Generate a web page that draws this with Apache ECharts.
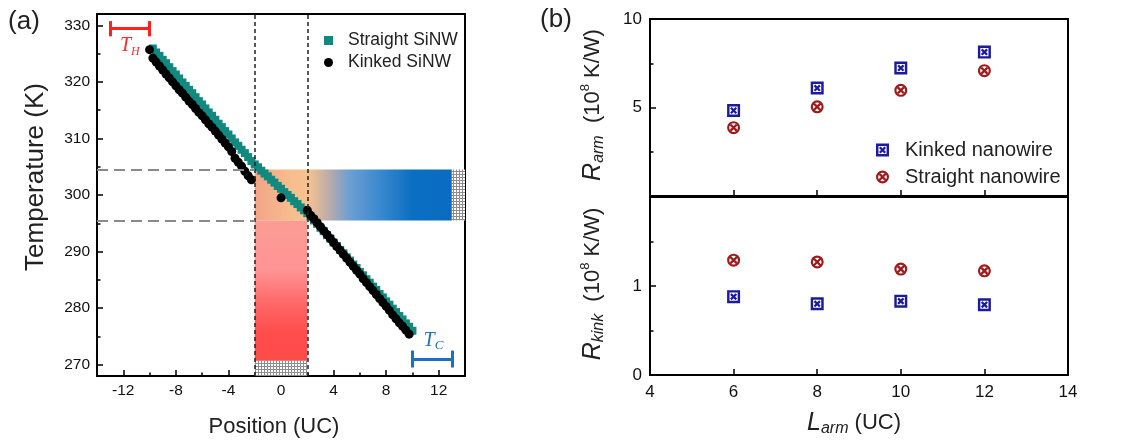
<!DOCTYPE html>
<html>
<head>
<meta charset="utf-8">
<script src="https://cdn.jsdelivr.net/npm/echarts@6/dist/echarts.min.js"></script>
<style>
  html, body { margin: 0; padding: 0; background: #fff; }
  #chart { width: 1140px; height: 443px; }
</style>
</head>
<body>
<div id="chart"></div>
<script>
// ---------- (a) temperature profiles along the nanowire ----------
const straightPos = [
  -9.75, -9.5, -9.25, -9, -8.75, -8.5, -8.25, -8, -7.75, -7.5, -7.25, -7, -6.75, -6.5, -6.25, -6,
  -5.75, -5.5, -5.25, -5, -4.75, -4.5, -4.25, -4, -3.75, -3.5, -3.25, -3, -2.75, -2.5, -2.25, -2,
  -1.75, -1.5, -1.25, -1, -0.75, -0.5, -0.25, 0, 0.25, 0.5, 0.75, 1, 1.25, 1.5, 1.75, 2,
  2.25, 2.5, 2.75, 3, 3.25, 3.5, 3.75, 4, 4.25, 4.5, 4.75, 5, 5.25, 5.5, 5.75, 6,
  6.25, 6.5, 6.75, 7, 7.25, 7.5, 7.75, 8, 8.25, 8.5, 8.75, 9, 9.25, 9.5, 9.75, 10
];
const straightTemp = [
  325.9, 325.2, 324.6, 323.9, 323.3, 322.6, 321.9, 321.3, 320.6, 319.9, 319.3, 318.6, 318.0, 317.3, 316.6, 316.0,
  315.3, 314.6, 314.0, 313.3, 312.6, 312.0, 311.3, 310.7, 310.0, 309.3, 308.7, 308.0, 307.4, 306.7, 306.0, 305.4,
  304.9, 304.3, 303.8, 303.3, 302.7, 302.2, 301.6, 301.1, 300.5, 300.0, 299.5, 298.9, 298.4, 297.8, 297.3, 296.8,
  296.2, 295.5, 294.9, 294.2, 293.6, 292.9, 292.3, 291.6, 291.0, 290.3, 289.7, 289.0, 288.4, 287.7, 287.1, 286.4,
  285.8, 285.1, 284.5, 283.8, 283.2, 282.5, 281.9, 281.2, 280.6, 279.9, 279.3, 278.6, 278.0, 277.3, 276.7, 276.0
];
const kinkedPos = [
  -10, -9.75, -9.5, -9.25, -9, -8.75, -8.5, -8.25, -8, -7.75, -7.5, -7.25, -7, -6.75, -6.5, -6.25,
  -6, -5.75, -5.5, -5.25, -5, -4.75, -4.5, -4.25, -4, -3.75, -3.5, -3.25, -3, -2.75, -2.5, -2.25,
  0,
  2, 2.25, 2.5, 2.75, 3, 3.25, 3.5, 3.75, 4, 4.25, 4.5, 4.75, 5, 5.25, 5.5, 5.75,
  6, 6.25, 6.5, 6.75, 7, 7.25, 7.5, 7.75, 8, 8.25, 8.5, 8.75, 9, 9.25, 9.5, 9.75
];
const kinkedTemp = [
  325.7, 324.2, 323.5, 322.8, 322.1, 321.4, 320.7, 320.0, 319.3, 318.6, 318.0, 317.3, 316.6, 316.0, 315.3, 314.6,
  314.0, 313.3, 312.6, 312.0, 311.3, 310.6, 309.9, 309.2, 308.5, 307.7, 306.5, 305.8, 305.1, 304.2, 303.4, 302.7,
  299.5,
  297.3, 296.4, 295.8, 295.1, 294.4, 293.7, 293.0, 292.3, 291.6, 290.9, 290.2, 289.5, 288.8, 288.1, 287.4, 286.7,
  286.0, 285.2, 284.5, 283.8, 283.1, 282.4, 281.7, 281.0, 280.3, 279.6, 278.8, 278.1, 277.4, 276.8, 276.1, 275.4
];
const posTicks = [-12, -8, -4, 0, 4, 8, 12];
const posMinorTicks = [-10, -6, -2, 2, 6, 10];
const tempTicks = [270, 280, 290, 300, 310, 320, 330];
const tempMinorTicks = [275, 285, 295, 305, 315, 325];
const kinkEdges = [-2, 2];          // kink region boundaries (UC)
const kinkTemps = [295.5, 304.5];   // temperatures at the kink boundaries (K)
const hotBath = [-13, -10, 329.4];  // x from, x to, level
const coldBath = [10, 13, 271.0];

// ---------- (b) thermal resistances vs arm length ----------
const armLengths = [6, 8, 10, 12];
const rArmKinked = [4.83, 6.10, 7.23, 8.13];
const rArmStraight = [3.86, 5.04, 5.97, 7.08];
const rKinkKinked = [0.88, 0.80, 0.83, 0.79];
const rKinkStraight = [1.29, 1.27, 1.19, 1.17];

const FONT = '"Liberation Sans", Arial, sans-serif';
const SERIF = '"Liberation Serif", "DejaVu Serif", serif';
const INK = '#111';

// square with a cross, and circle with a cross
const SQ_X = 'path://M0,0H24V24H0Z M4.5,4.5V19.5H19.5V4.5Z M5.5,8.5L8.5,5.5L18.5,15.5L15.5,18.5Z M15.5,5.5L18.5,8.5L8.5,18.5L5.5,15.5Z';
const CIR_X = 'path://M0,12A12,12 0 1,1 24,12A12,12 0 1,1 0,12Z M4,12A8,8 0 1,0 20,12A8,8 0 1,0 4,12Z M5,8L8,5L19,16L16,19Z M16,5L19,8L8,19L5,16Z';

function hatch() {
  const c = document.createElement('canvas');
  c.width = 3; c.height = 3;
  const g = c.getContext('2d');
  g.fillStyle = '#ffffff'; g.fillRect(0, 0, 3, 3);
  g.fillStyle = '#8e8e8e'; g.fillRect(0, 0, 3, 1); g.fillRect(0, 0, 1, 3);
  return { image: c, repeat: 'repeat' };
}

const pairs = (xs, ys) => xs.map((x, i) => [x, ys[i]]);

const bandGradient = new echarts.graphic.LinearGradient(0, 0, 1, 0, [
  { offset: 0.00, color: '#f2a386' },
  { offset: 0.18, color: '#f7bd8e' },
  { offset: 0.27, color: '#f7c28f' },
  { offset: 0.38, color: '#b9abab' },
  { offset: 0.48, color: '#6d9fd4' },
  { offset: 0.62, color: '#3f8bd0' },
  { offset: 0.80, color: '#0a6fc2' },
  { offset: 1.00, color: '#0a6cc0' }
]);
const kinkGradient = new echarts.graphic.LinearGradient(0, 0, 0, 1, [
  { offset: 0.00, color: '#fb9c94' },
  { offset: 0.35, color: '#ff9494' },
  { offset: 0.60, color: '#ff6666' },
  { offset: 0.80, color: '#ff4d4d' },
  { offset: 1.00, color: '#ff4a4a' }
]);

const dashBlack = { color: '#222', width: 1.5, type: [4, 3] };
const dashGray = { color: '#8a8a8a', width: 2, type: [11, 6] };
const hotStyle = { color: '#ff2020', width: 3, type: 'solid' };
const coldStyle = { color: '#1b72c2', width: 3, type: 'solid' };

const chart = echarts.init(document.getElementById('chart'), null, { renderer: 'canvas' });

const baseAxis = {
  type: 'value',
  splitLine: { show: false },
  axisLine: { show: true, onZero: false, lineStyle: { color: '#000', width: 2 } },
  axisTick: { show: true, inside: true, length: 6, lineStyle: { color: '#000', width: 1.5 } },
  axisLabel: { color: INK, fontFamily: FONT }
};
const minorAxis = {
  type: 'value',
  splitLine: { show: false },
  axisLine: { show: false, onZero: false },
  axisLabel: { show: false }
};

const richTitle = {
  r: { fontSize: 25, fontStyle: 'italic', fontFamily: FONT, lineHeight: 28, fill: '#222' },
  sub: { fontSize: 16, fontStyle: 'italic', fontFamily: FONT, lineHeight: 14, verticalAlign: 'bottom', fill: '#222' },
  n: { fontSize: 22, fontFamily: FONT, lineHeight: 28, fill: '#222' },
  sup: { fontSize: 13, fontFamily: FONT, lineHeight: 14, verticalAlign: 'top', fill: '#222' }
};

chart.setOption({
  animation: false,
  textStyle: { fontFamily: FONT },
  grid: [
    { left: 97, top: 14, width: 368, height: 362, show: true, borderColor: '#000', borderWidth: 2 },
    { left: 650, top: 19, width: 418, height: 177, show: true, borderColor: '#000', borderWidth: 2 },
    { left: 650, top: 197, width: 418, height: 178, show: true, borderColor: '#000', borderWidth: 2 }
  ],
  xAxis: [
    Object.assign({}, baseAxis, {
      gridIndex: 0, min: -14, max: 14, position: 'bottom',
      axisTick: Object.assign({}, baseAxis.axisTick, { customValues: posTicks }),
      axisLabel: Object.assign({}, baseAxis.axisLabel, { customValues: posTicks, fontSize: 15.5, margin: 7 })
    }),
    Object.assign({}, minorAxis, {
      gridIndex: 0, min: -14, max: 14, position: 'bottom',
      axisTick: { show: true, inside: true, length: 3.5, customValues: posMinorTicks, lineStyle: { color: '#000', width: 1.5 } }
    }),
    Object.assign({}, baseAxis, {
      gridIndex: 1, min: 4, max: 14, interval: 2, position: 'bottom',
      axisLabel: { show: false }
    }),
    Object.assign({}, baseAxis, {
      gridIndex: 2, min: 4, max: 14, interval: 2, position: 'bottom',
      axisLabel: Object.assign({}, baseAxis.axisLabel, { fontSize: 17, margin: 9 })
    })
  ],
  yAxis: [
    Object.assign({}, baseAxis, {
      gridIndex: 0, min: 268, max: 332, position: 'left',
      axisTick: Object.assign({}, baseAxis.axisTick, { customValues: tempTicks }),
      axisLabel: Object.assign({}, baseAxis.axisLabel, { customValues: tempTicks, fontSize: 15.5, margin: 7 })
    }),
    Object.assign({}, minorAxis, {
      gridIndex: 0, min: 268, max: 332, position: 'left',
      axisTick: { show: true, inside: true, length: 3.5, customValues: tempMinorTicks, lineStyle: { color: '#000', width: 1.5 } }
    }),
    Object.assign({}, baseAxis, {
      gridIndex: 1, min: 0, max: 10, interval: 5, position: 'left',
      minorTick: { show: true, splitNumber: 2, length: 3.5, lineStyle: { color: '#000', width: 1.5 } },
      axisLabel: Object.assign({}, baseAxis.axisLabel, { fontSize: 17, margin: 8, showMinLabel: false })
    }),
    Object.assign({}, baseAxis, {
      gridIndex: 2, min: 0, max: 2, interval: 1, position: 'left',
      minorTick: { show: true, splitNumber: 2, length: 3.5, lineStyle: { color: '#000', width: 1.5 } },
      axisLabel: Object.assign({}, baseAxis.axisLabel, { fontSize: 17, margin: 8, showMaxLabel: false })
    })
  ],
  legend: [
    {
      data: ['Straight SiNW', 'Kinked SiNW'],
      orient: 'vertical', left: 319, top: 26,
      itemWidth: 9, itemHeight: 9, itemGap: 3, selectedMode: false,
      textStyle: { fontSize: 17.5, color: '#222', fontFamily: FONT, lineHeight: 19, padding: [0, 0, 0, 10] }
    },
    {
      data: ['Kinked nanowire', 'Straight nanowire'],
      orient: 'vertical', left: 871, top: 134,
      itemWidth: 13, itemHeight: 13, itemGap: 5, selectedMode: false,
      textStyle: { fontSize: 20, color: '#222', fontFamily: FONT, lineHeight: 22, padding: [0, 0, 0, 11] }
    }
  ],
  graphic: [
    { type: 'text', x: 24, y: 22, style: { text: '(a)', fontSize: 26, fontFamily: FONT, fill: '#222', align: 'center', verticalAlign: 'middle' } },
    { type: 'text', x: 556, y: 20, style: { text: '(b)', fontSize: 26, fontFamily: FONT, fill: '#222', align: 'center', verticalAlign: 'middle' } },
    { type: 'text', x: 36, y: 177, rotation: Math.PI / 2,
      style: { text: 'Temperature (K)', fontSize: 26, fontFamily: FONT, fill: '#222', align: 'center', verticalAlign: 'middle' } },
    { type: 'text', x: 274, y: 427,
      style: { text: 'Position (UC)', fontSize: 22, fontFamily: FONT, fill: '#222', align: 'center', verticalAlign: 'middle' } },
    { type: 'text', x: 593, y: 105, rotation: Math.PI / 2,
      style: { text: '{r|R}{sub|arm}{n|  (10}{sup|8}{n| K/W)}', align: 'center', verticalAlign: 'middle', fill: '#222', rich: richTitle } },
    { type: 'text', x: 593, y: 284, rotation: Math.PI / 2,
      style: { text: '{r|R}{sub|kink}{n|  (10}{sup|8}{n| K/W)}', align: 'center', verticalAlign: 'middle', fill: '#222', rich: richTitle } },
    { type: 'text', x: 854, y: 423,
      style: { text: '{r|L}{sub|arm}{n| (UC)}', align: 'center', verticalAlign: 'middle', fill: '#222', rich: richTitle } }
  ],
  series: [
    {
      // bands, reservoirs, guide lines and bath markers for panel (a)
      name: 'guides', type: 'scatter', xAxisIndex: 0, yAxisIndex: 0, data: [], z: 1, silent: true,
      markArea: {
        silent: true,
        label: { show: false },
        data: [
          [{ coord: [kinkEdges[0], kinkTemps[1]], itemStyle: { color: bandGradient } }, { coord: [13, kinkTemps[0]] }],
          [{ coord: [kinkEdges[0], kinkTemps[0]], itemStyle: { color: kinkGradient } }, { coord: [kinkEdges[1], 270.7] }],
          [{ coord: [13, kinkTemps[1]], itemStyle: { color: hatch() } }, { coord: [14, kinkTemps[0]] }],
          [{ coord: [kinkEdges[0], 270.7], itemStyle: { color: hatch() } }, { coord: [kinkEdges[1], 268] }]
        ]
      },
      markLine: {
        silent: true, symbol: ['none', 'none'], label: { show: false },
        emphasis: { disabled: true },
        data: [
          { xAxis: kinkEdges[0], lineStyle: dashBlack },
          { xAxis: kinkEdges[1], lineStyle: dashBlack },
          [{ coord: [-14, kinkTemps[1]], lineStyle: dashGray }, { coord: [kinkEdges[0], kinkTemps[1]] }],
          [{ coord: [-14, kinkTemps[0]], lineStyle: dashGray }, { coord: [kinkEdges[0], kinkTemps[0]] }],
          [{ coord: [hotBath[0], hotBath[2]], lineStyle: hotStyle }, { coord: [hotBath[1], hotBath[2]] }],
          [{ coord: [hotBath[0], hotBath[2] - 1.35], lineStyle: hotStyle }, { coord: [hotBath[0], hotBath[2] + 1.35] }],
          [{ coord: [hotBath[1], hotBath[2] - 1.35], lineStyle: hotStyle }, { coord: [hotBath[1], hotBath[2] + 1.35] }],
          [{ coord: [coldBath[0], coldBath[2]], lineStyle: coldStyle }, { coord: [coldBath[1], coldBath[2]] }],
          [{ coord: [coldBath[0], coldBath[2] - 1.5], lineStyle: coldStyle }, { coord: [coldBath[0], coldBath[2] + 1.5] }],
          [{ coord: [coldBath[1], coldBath[2] - 1.5], lineStyle: coldStyle }, { coord: [coldBath[1], coldBath[2] + 1.5] }]
        ]
      },
      markPoint: {
        silent: true, symbolSize: 0,
        data: [
          { coord: [-11.5, 326.4], label: { show: true, position: 'inside', formatter: '{t|T}{s|H}',
              rich: {
                t: { fontFamily: SERIF, fontStyle: 'italic', fontSize: 20, color: '#ff2a2a', lineHeight: 24 },
                s: { fontFamily: SERIF, fontStyle: 'italic', fontSize: 12, color: '#ff2a2a', lineHeight: 12, verticalAlign: 'bottom' }
              } } },
          { coord: [11.6, 274.3], label: { show: true, position: 'inside', formatter: '{t|T}{s|C}',
              rich: {
                t: { fontFamily: SERIF, fontStyle: 'italic', fontSize: 20, color: '#1b72c2', lineHeight: 24 },
                s: { fontFamily: SERIF, fontStyle: 'italic', fontSize: 13, color: '#1b72c2', lineHeight: 12, verticalAlign: 'bottom' }
              } } }
        ]
      }
    },
    {
      name: 'Straight SiNW', type: 'scatter', xAxisIndex: 0, yAxisIndex: 0, z: 3,
      symbol: 'rect', symbolSize: 8,
      itemStyle: { color: '#11897f', opacity: 1 },
      data: pairs(straightPos, straightTemp)
    },
    {
      name: 'Kinked SiNW', type: 'scatter', xAxisIndex: 0, yAxisIndex: 0, z: 4,
      symbol: 'circle', symbolSize: 9,
      itemStyle: { color: '#000', opacity: 1 },
      data: pairs(kinkedPos, kinkedTemp)
    },
    {
      name: 'Kinked nanowire', type: 'scatter', xAxisIndex: 2, yAxisIndex: 2,
      symbol: SQ_X, symbolSize: 13, itemStyle: { color: '#1b1b9b', opacity: 1 },
      data: pairs(armLengths, rArmKinked)
    },
    {
      name: 'Straight nanowire', type: 'scatter', xAxisIndex: 2, yAxisIndex: 2,
      symbol: CIR_X, symbolSize: 13, itemStyle: { color: '#a3191b', opacity: 1 },
      data: pairs(armLengths, rArmStraight)
    },
    {
      name: 'Kinked nanowire', type: 'scatter', xAxisIndex: 3, yAxisIndex: 3,
      symbol: SQ_X, symbolSize: 13, itemStyle: { color: '#1b1b9b', opacity: 1 },
      data: pairs(armLengths, rKinkKinked)
    },
    {
      name: 'Straight nanowire', type: 'scatter', xAxisIndex: 3, yAxisIndex: 3,
      symbol: CIR_X, symbolSize: 13, itemStyle: { color: '#a3191b', opacity: 1 },
      data: pairs(armLengths, rKinkStraight)
    }
  ]
});
</script>
</body>
</html>
